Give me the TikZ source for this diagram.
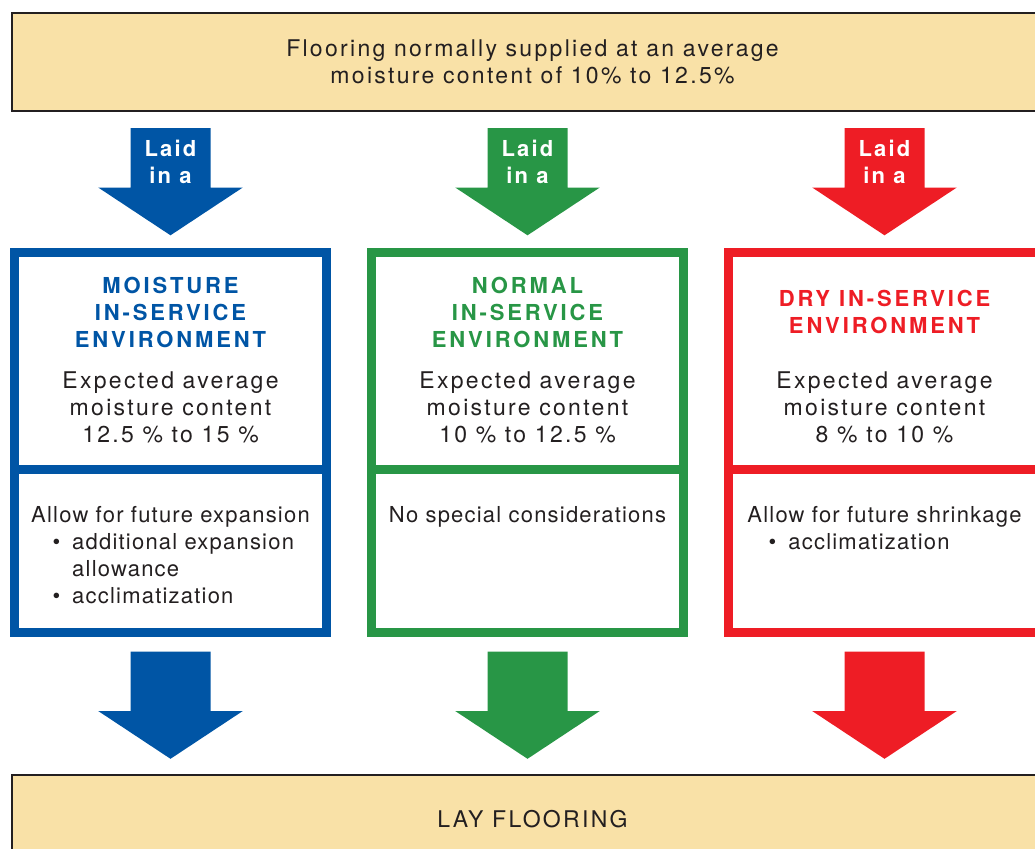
\documentclass[tikz,border=0pt]{standalone}
\usepackage{fontspec}
\setmainfont{TeX Gyre Heros}
\newfontfamily\FLspaced[LetterSpace=10]{TeX Gyre Heros}
\newfontfamily\FLnote[LetterSpace=5.5]{TeX Gyre Heros}
\newfontfamily\FLtitle[LetterSpace=13]{TeX Gyre Heros}
\usetikzlibrary{calc,positioning}
\definecolor{FLBlue}{HTML}{0055A5}
\definecolor{FLGreen}{HTML}{289646}
\definecolor{FLRed}{HTML}{EE1D25}
\definecolor{FLSand}{HTML}{F9E1A7}
\definecolor{FLInk}{HTML}{231F20}

\newcommand{\flitem}{\makebox[41pt][r]{\textbullet\hspace{12pt}}}
\newcommand{\flcont}{\hspace*{41pt}}

\tikzset{
  banner/.style={draw=FLInk, line width=2pt, fill=FLSand, inner sep=0pt,
    minimum width=1041pt, text=FLInk, align=center,
    font=\FLspaced\fontsize{23}{27}\selectfont},
  envbox/.style={draw=#1, line width=9pt, inner sep=0pt, outer sep=0pt,
    minimum width=312pt},
  envtitle/.style={text=#1, inner sep=0pt, align=center,
    font=\FLtitle\bfseries\fontsize{22}{27}\selectfont},
  envtext/.style={text=FLInk, inner sep=0pt, align=center,
    font=\FLspaced\fontsize{23}{27}\selectfont},
  envnote/.style={text=FLInk, inner sep=0pt, align=left,
    font=\FLnote\fontsize{22}{27}\selectfont},
  laid/.style={text=white, inner sep=0pt, align=center,
    font=\FLspaced\bfseries\fontsize{22}{27}\selectfont},
  pics/blockarrow/.style={code={
    \fill[#1] (-40,0) -- (40,0) -- (40,59.5) -- (72.3,59.5) -- (0,107.3)
      -- (-72.3,59.5) -- (-40,59.5) -- cycle;
  }}
}

\begin{document}
\begin{tikzpicture}[x=1pt,y=-1pt]
\useasboundingbox (0,0) rectangle (1035,848);
\clip (0,0) rectangle (1035,848);

% supply and laying banners
\node[banner, minimum height=98pt, anchor=north west] (supply) at (11,12)
  {Flooring normally supplied at an average\\moisture content of 10\% to 12.5\%};
\node[banner, minimum height=88pt, anchor=north west] (lay) at (11,774)
  {LAY FLOORING};

% in-service environment boxes
\node[envbox=FLBlue, minimum height=217pt, anchor=north] (moistTop) at (170.5,252.8) {};
\node[envbox=FLBlue, minimum height=163pt, below=0pt of moistTop] (moistLow) {};
\node[envbox=FLGreen, minimum height=217pt, right=45pt of moistTop] (normalTop) {};
\node[envbox=FLGreen, minimum height=163pt, below=0pt of normalTop] (normalLow) {};
\node[envbox=FLRed, minimum height=217pt, right=45pt of normalTop] (dryTop) {};
\node[envbox=FLRed, minimum height=163pt, below=0pt of dryTop] (dryLow) {};

\node[envtitle=FLBlue] (moistTitle) at ($(moistTop.north)+(0,59.2)$)
  {MOISTURE\\IN-SERVICE\\ENVIRONMENT};
\node[envtitle=FLGreen] (normalTitle) at ($(normalTop.north)+(0,59.2)$)
  {NORMAL\\IN-SERVICE\\ENVIRONMENT};
\node[envtitle=FLRed] (dryTitle) at ($(dryTop.north)+(0,59.2)$)
  {DRY IN-SERVICE\\ENVIRONMENT};

\node[envtext] (moistMC) at ($(moistTop.north)+(0,154.7)$)
  {Expected average\\moisture content\\12.5 \% to 15 \%};
\node[envtext] (normalMC) at ($(normalTop.north)+(0,154.7)$)
  {Expected average\\moisture content\\10 \% to 12.5 \%};
\node[envtext] (dryMC) at ($(dryTop.north)+(0,154.7)$)
  {Expected average\\moisture content\\8 \% to 10 \%};

\node[envnote, below=36.7pt of moistLow.north] (moistNote)
  {Allow for future expansion\\\flitem additional expansion\\\flcont allowance\\\flitem acclimatization};
\node[envnote, below=36.7pt of normalLow.north] (normalNote)
  {No special considerations};
\node[envnote, below=36.7pt of dryLow.north] (dryNote)
  {Allow for future shrinkage\\\flitem acclimatization};

% block arrows
\foreach \env/\col in {moist/FLBlue, normal/FLGreen, dry/FLRed}{
  \pic at ($(\env Top.north |- supply.south)+(0,16)$) {blockarrow=\col};
  \node[laid] (\env Laid) at ($(\env Top.north |- supply.south)+(0,49.5)$) {Laid\\in a};
  \pic at ($(\env Low.south)+(0,18.7)$) {blockarrow=\col};
}
\end{tikzpicture}
\end{document}
